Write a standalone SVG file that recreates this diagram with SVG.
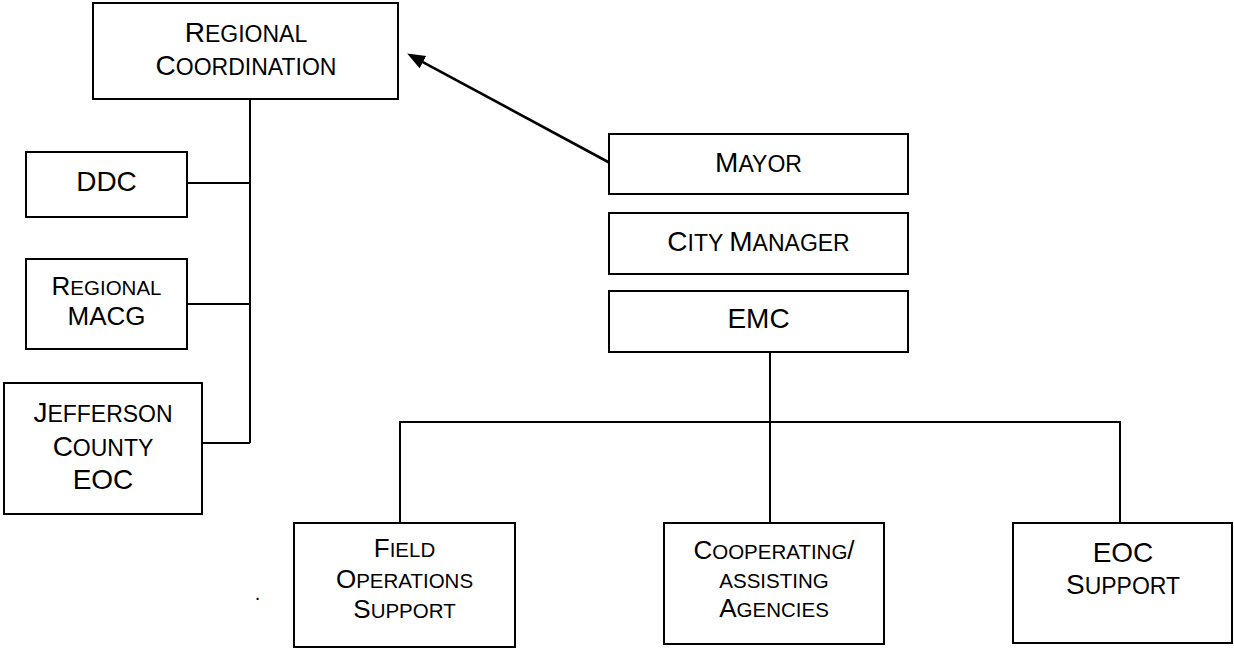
<svg xmlns="http://www.w3.org/2000/svg" width="1234" height="649" viewBox="0 0 1234 649">
<style>
.box{fill:#fff;stroke:#000;stroke-width:2}
.ln{fill:none;stroke:#000;stroke-width:2}
.arr{fill:none;stroke:#000;stroke-width:2.6}
text{font-family:"Liberation Sans",Arial,sans-serif;fill:#000;text-anchor:middle}
.L{font-size:28px}.s{font-size:23px}
.L2{font-size:26px}.s2{font-size:20.5px}
</style>
<defs>
<marker id="ah" markerUnits="userSpaceOnUse" markerWidth="19" markerHeight="15" refX="7" refY="7" orient="auto">
<path d="M0,0 L18,7 L0,14 z" fill="#000"/>
</marker>
</defs>
<rect width="1234" height="649" fill="#fff"/>
<g id="connectors">
<path class="ln" d="M250,99 V443 M187,183 H250 M187,304 H250 M202,443 H250"/>
<path class="ln" d="M770,352 V523 M400,523 V422 H1120 V523"/>
<line class="arr" x1="610" y1="163" x2="416.8" y2="58.8" marker-end="url(#ah)"/>
</g>
<g id="regional-coordination">
<rect class="box" x="93" y="3" width="305" height="96"/>
<text x="246" y="42"><tspan class="L">R</tspan><tspan class="s">EGIONAL</tspan></text>
<text x="246" y="75"><tspan class="L">C</tspan><tspan class="s">OORDINATION</tspan></text>
</g>
<g id="ddc">
<rect class="box" x="26" y="152" width="161" height="65"/>
<text x="106.5" y="191" class="L">DDC</text>
</g>
<g id="regional-macg">
<rect class="box" x="26" y="259" width="161" height="90"/>
<text x="106.5" y="295"><tspan class="L2">R</tspan><tspan class="s2">EGIONAL</tspan></text>
<text x="106.5" y="325" class="L2">MACG</text>
</g>
<g id="jefferson-county-eoc">
<rect class="box" x="4" y="383" width="198" height="131"/>
<text x="103" y="422"><tspan class="L">J</tspan><tspan class="s">EFFERSON</tspan></text>
<text x="103" y="456"><tspan class="L">C</tspan><tspan class="s">OUNTY</tspan></text>
<text x="103" y="489" class="L">EOC</text>
</g>
<g id="mayor">
<rect class="box" x="609" y="134" width="299" height="60"/>
<text x="758.5" y="172"><tspan class="L">M</tspan><tspan class="s">AYOR</tspan></text>
</g>
<g id="city-manager">
<rect class="box" x="609" y="213" width="299" height="61"/>
<text x="758.5" y="251"><tspan class="L">C</tspan><tspan class="s">ITY </tspan><tspan class="L">M</tspan><tspan class="s">ANAGER</tspan></text>
</g>
<g id="emc">
<rect class="box" x="609" y="291" width="299" height="61"/>
<text x="758.5" y="328" class="L">EMC</text>
</g>
<g id="field-operations-support">
<rect class="box" x="294" y="523" width="221" height="124"/>
<text x="404.5" y="557"><tspan class="L2">F</tspan><tspan class="s2">IELD</tspan></text>
<text x="404.5" y="588"><tspan class="L2">O</tspan><tspan class="s2">PERATIONS</tspan></text>
<text x="404.5" y="618"><tspan class="L2">S</tspan><tspan class="s2">UPPORT</tspan></text>
</g>
<g id="cooperating-agencies">
<rect class="box" x="664" y="523" width="220" height="121"/>
<text x="774" y="559"><tspan class="L2">C</tspan><tspan class="s2">OOPERATING</tspan><tspan class="L2">/</tspan></text>
<text x="774" y="588" class="s2">ASSISTING</text>
<text x="774" y="617"><tspan class="L2">A</tspan><tspan class="s2">GENCIES</tspan></text>
</g>
<g id="eoc-support">
<rect class="box" x="1013" y="523" width="219" height="120"/>
<text x="1123" y="562" class="L">EOC</text>
<text x="1123" y="594"><tspan class="L">S</tspan><tspan class="s">UPPORT</tspan></text>
</g>
<text x="257.5" y="600" style="font-size:20px">.</text>
</svg>
